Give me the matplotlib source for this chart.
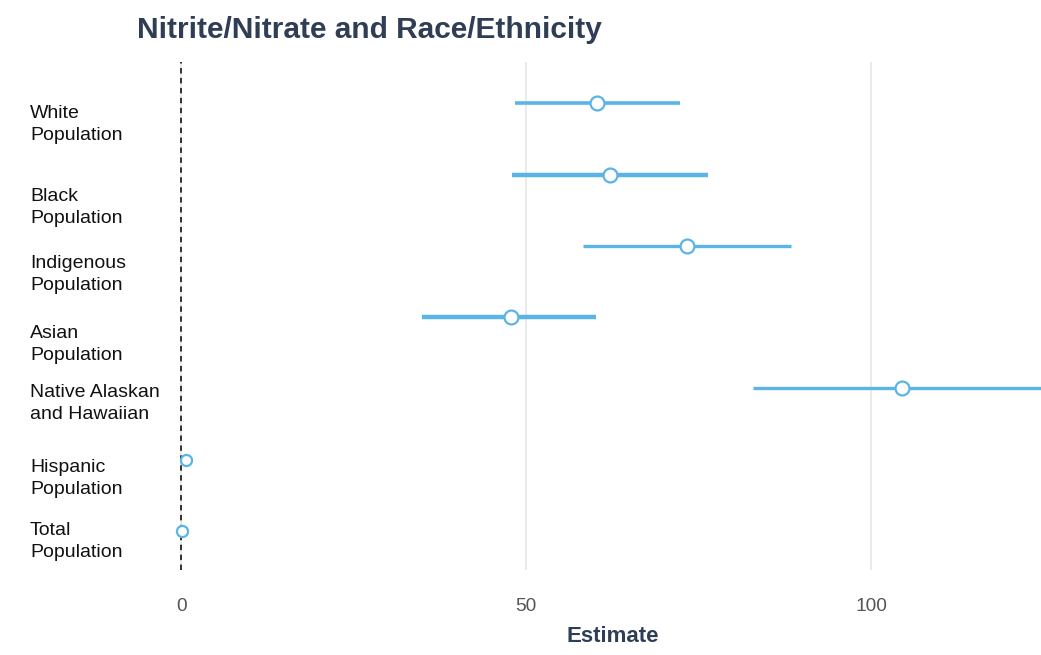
import numpy as np
import matplotlib.pyplot as plt
import matplotlib.transforms as mtransforms

plt.rcParams['font.family'] = ['Liberation Sans', 'DejaVu Sans']

# data
groups = ["White\nPopulation", "Black\nPopulation", "Indigenous\nPopulation",
          "Asian\nPopulation", "Native Alaskan\nand Hawaiian",
          "Hispanic\nPopulation", "Total\nPopulation"]
estimate = [60.3, 62.2, 73.3, 47.8, 104.5, 0.7, 0.15]
ci_low = [48.4, 48.0, 58.3, 34.9, 82.9, 0.7, 0.15]
ci_high = [72.3, 76.4, 88.4, 60.1, 131.0, 0.7, 0.15]

# layout only
line_w = [2.6, 3.2, 2.4, 3.2, 2.4, 2.4, 2.4]
label_drop = [21, 33, 29, 27, 15, 19, 11]   # px the label sits below its row

blue = "#5ab4e6"

fig = plt.figure(figsize=(10.41, 6.55), dpi=100)
ax = fig.add_axes([130 / 1041, 1 - 570 / 655, 911 / 1041, 508 / 655])

n = len(groups)
ypos = np.arange(n)[::-1]

for i in range(n):
    ax.plot([ci_low[i], ci_high[i]], [ypos[i], ypos[i]], color=blue,
            lw=line_w[i], solid_capstyle="butt", zorder=2)
ax.plot(estimate[:5], ypos[:5], "o", ms=10, mfc="white", mec=blue, mew=1.6, zorder=3)
ax.plot(estimate[5:], ypos[5:], "o", ms=8, mfc="white", mec=blue, mew=1.6, zorder=3)

ax.axvline(0, color="#222222", lw=1.3, ls=(0, (3, 2.5)), zorder=1)

ax.set_xlim(-7.4, 124.6)
ax.set_ylim(ypos[-1] - 0.55, ypos[0] + 0.58)
ax.set_xticks([0, 50, 100])
ax.set_xticklabels(["0", "50", "100"], fontsize=13.8, color="#555555")
ax.tick_params(axis="x", length=0, pad=20)
ax.grid(axis="x", color="#e6e6e6", lw=1.2)
ax.set_axisbelow(True)
ax.set_yticks([])
for s in ax.spines.values():
    s.set_visible(False)

for i in range(n):
    tr = mtransforms.offset_copy(
        mtransforms.blended_transform_factory(fig.transFigure, ax.transData),
        fig=fig, x=0, y=-label_drop[i] * 72 / 100, units="points")
    ax.text(30 / 1041, ypos[i], groups[i], transform=tr, ha="left", va="center",
            fontsize=14, color="#111111", linespacing=1.38)

fig.text(137 / 1041, 1 - 30 / 655, "Nitrite/Nitrate and Race/Ethnicity",
         fontsize=21.5, fontweight="bold", color="#2f3e55", ha="left", va="center")
fig.text(613 / 1041, 1 - 636 / 655, "Estimate", fontsize=16,
         fontweight="bold", color="#2f3e55", ha="center", va="center")

fig.savefig("out.png", dpi=100)
